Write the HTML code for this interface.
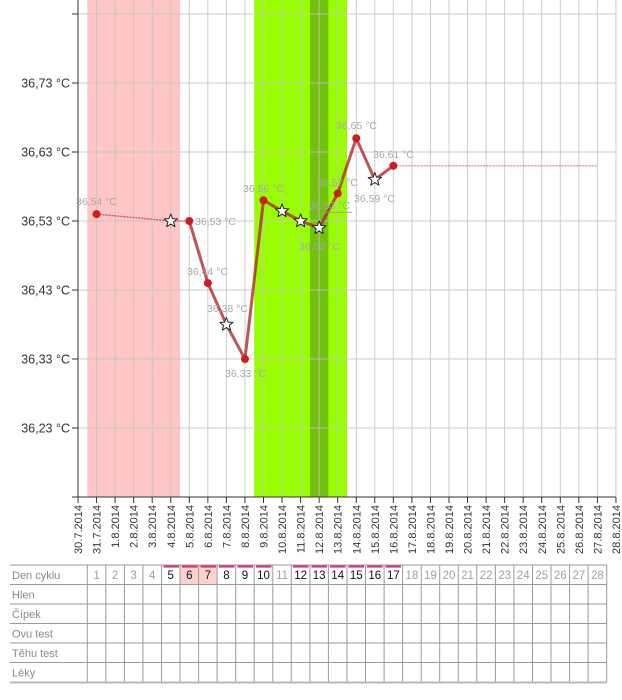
<!DOCTYPE html>
<html><head><meta charset="utf-8"><style>
html,body{margin:0;padding:0;background:#fff;}
svg{display:block;font-family:"Liberation Sans",Arial,sans-serif;}
</style></head><body>
<svg width="622" height="700" viewBox="0 0 622 700" xmlns="http://www.w3.org/2000/svg">
<defs>
<path id="st" d="M0,-7 L1.76,-2.43 L6.66,-2.16 L2.85,0.93 L4.11,5.66 L0,3 L-4.11,5.66 L-2.85,0.93 L-6.66,-2.16 L-1.76,-2.43 Z" fill="#fff" stroke="#222" stroke-width="1" stroke-linejoin="round"/>
</defs>
<rect width="622" height="700" fill="#fff"/>
<!-- bands -->
<rect x="87.3" y="0" width="92.7" height="497" fill="#ffc6c6"/>
<rect x="254.2" y="0" width="92.8" height="497" fill="#99ff00"/>
<rect x="309.9" y="0" width="18.5" height="497" fill="#72c10d"/>
<!-- grid -->
<g stroke="#c4c4c4" stroke-width="1" opacity="0.85">
<line x1="96.55" y1="0" x2="96.55" y2="497"/><line x1="115.1" y1="0" x2="115.1" y2="497"/><line x1="133.65" y1="0" x2="133.65" y2="497"/><line x1="152.2" y1="0" x2="152.2" y2="497"/><line x1="170.75" y1="0" x2="170.75" y2="497"/><line x1="189.3" y1="0" x2="189.3" y2="497"/><line x1="207.85" y1="0" x2="207.85" y2="497"/><line x1="226.4" y1="0" x2="226.4" y2="497"/><line x1="244.95" y1="0" x2="244.95" y2="497"/><line x1="263.5" y1="0" x2="263.5" y2="497"/><line x1="282.05" y1="0" x2="282.05" y2="497"/><line x1="300.6" y1="0" x2="300.6" y2="497"/><line x1="319.15" y1="0" x2="319.15" y2="497"/><line x1="337.7" y1="0" x2="337.7" y2="497"/><line x1="356.25" y1="0" x2="356.25" y2="497"/><line x1="374.8" y1="0" x2="374.8" y2="497"/><line x1="393.35" y1="0" x2="393.35" y2="497"/><line x1="411.9" y1="0" x2="411.9" y2="497"/><line x1="430.45" y1="0" x2="430.45" y2="497"/><line x1="449" y1="0" x2="449" y2="497"/><line x1="467.55" y1="0" x2="467.55" y2="497"/><line x1="486.1" y1="0" x2="486.1" y2="497"/><line x1="504.65" y1="0" x2="504.65" y2="497"/><line x1="523.2" y1="0" x2="523.2" y2="497"/><line x1="541.75" y1="0" x2="541.75" y2="497"/><line x1="560.3" y1="0" x2="560.3" y2="497"/><line x1="578.85" y1="0" x2="578.85" y2="497"/><line x1="597.4" y1="0" x2="597.4" y2="497"/><line x1="615.95" y1="0" x2="615.95" y2="497"/>
<line x1="78" y1="14" x2="616" y2="14"/><line x1="78" y1="83" x2="616" y2="83"/><line x1="78" y1="152" x2="616" y2="152"/><line x1="78" y1="221" x2="616" y2="221"/><line x1="78" y1="290" x2="616" y2="290"/><line x1="78" y1="359" x2="616" y2="359"/><line x1="78" y1="428" x2="616" y2="428"/>
</g>
<!-- axes -->
<g stroke="#333" stroke-width="1">
<line x1="78" y1="0" x2="78" y2="497"/>
<line x1="72" y1="497" x2="616" y2="497"/>
<line x1="72" y1="14" x2="78" y2="14"/><line x1="72" y1="83" x2="78" y2="83"/><line x1="72" y1="152" x2="78" y2="152"/><line x1="72" y1="221" x2="78" y2="221"/><line x1="72" y1="290" x2="78" y2="290"/><line x1="72" y1="359" x2="78" y2="359"/><line x1="72" y1="428" x2="78" y2="428"/>
<line x1="78" y1="497" x2="78" y2="503"/><line x1="96.55" y1="497" x2="96.55" y2="503"/><line x1="115.1" y1="497" x2="115.1" y2="503"/><line x1="133.65" y1="497" x2="133.65" y2="503"/><line x1="152.2" y1="497" x2="152.2" y2="503"/><line x1="170.75" y1="497" x2="170.75" y2="503"/><line x1="189.3" y1="497" x2="189.3" y2="503"/><line x1="207.85" y1="497" x2="207.85" y2="503"/><line x1="226.4" y1="497" x2="226.4" y2="503"/><line x1="244.95" y1="497" x2="244.95" y2="503"/><line x1="263.5" y1="497" x2="263.5" y2="503"/><line x1="282.05" y1="497" x2="282.05" y2="503"/><line x1="300.6" y1="497" x2="300.6" y2="503"/><line x1="319.15" y1="497" x2="319.15" y2="503"/><line x1="337.7" y1="497" x2="337.7" y2="503"/><line x1="356.25" y1="497" x2="356.25" y2="503"/><line x1="374.8" y1="497" x2="374.8" y2="503"/><line x1="393.35" y1="497" x2="393.35" y2="503"/><line x1="411.9" y1="497" x2="411.9" y2="503"/><line x1="430.45" y1="497" x2="430.45" y2="503"/><line x1="449" y1="497" x2="449" y2="503"/><line x1="467.55" y1="497" x2="467.55" y2="503"/><line x1="486.1" y1="497" x2="486.1" y2="503"/><line x1="504.65" y1="497" x2="504.65" y2="503"/><line x1="523.2" y1="497" x2="523.2" y2="503"/><line x1="541.75" y1="497" x2="541.75" y2="503"/><line x1="560.3" y1="497" x2="560.3" y2="503"/><line x1="578.85" y1="497" x2="578.85" y2="503"/><line x1="597.4" y1="497" x2="597.4" y2="503"/><line x1="615.95" y1="497" x2="615.95" y2="503"/>
</g>
<!-- y labels -->
<g font-size="12.5" fill="#333" text-anchor="end">
<text x="70" y="87.5">36,73 °C</text>
<text x="70" y="156.5">36,63 °C</text>
<text x="70" y="225.5">36,53 °C</text>
<text x="70" y="294.5">36,43 °C</text>
<text x="70" y="363.5">36,33 °C</text>
<text x="70" y="432.5">36,23 °C</text>
</g>
<!-- x labels -->
<g font-size="11" fill="#333" text-anchor="end">
<text transform="translate(82,505) rotate(-90)">30.7.2014</text>
<text transform="translate(100.55,505) rotate(-90)">31.7.2014</text>
<text transform="translate(119.1,505) rotate(-90)">1.8.2014</text>
<text transform="translate(137.65,505) rotate(-90)">2.8.2014</text>
<text transform="translate(156.2,505) rotate(-90)">3.8.2014</text>
<text transform="translate(174.75,505) rotate(-90)">4.8.2014</text>
<text transform="translate(193.3,505) rotate(-90)">5.8.2014</text>
<text transform="translate(211.85,505) rotate(-90)">6.8.2014</text>
<text transform="translate(230.4,505) rotate(-90)">7.8.2014</text>
<text transform="translate(248.95,505) rotate(-90)">8.8.2014</text>
<text transform="translate(267.5,505) rotate(-90)">9.8.2014</text>
<text transform="translate(286.05,505) rotate(-90)">10.8.2014</text>
<text transform="translate(304.6,505) rotate(-90)">11.8.2014</text>
<text transform="translate(323.15,505) rotate(-90)">12.8.2014</text>
<text transform="translate(341.7,505) rotate(-90)">13.8.2014</text>
<text transform="translate(360.25,505) rotate(-90)">14.8.2014</text>
<text transform="translate(378.8,505) rotate(-90)">15.8.2014</text>
<text transform="translate(397.35,505) rotate(-90)">16.8.2014</text>
<text transform="translate(415.9,505) rotate(-90)">17.8.2014</text>
<text transform="translate(434.45,505) rotate(-90)">18.8.2014</text>
<text transform="translate(453,505) rotate(-90)">19.8.2014</text>
<text transform="translate(471.55,505) rotate(-90)">20.8.2014</text>
<text transform="translate(490.1,505) rotate(-90)">21.8.2014</text>
<text transform="translate(508.65,505) rotate(-90)">22.8.2014</text>
<text transform="translate(527.2,505) rotate(-90)">23.8.2014</text>
<text transform="translate(545.75,505) rotate(-90)">24.8.2014</text>
<text transform="translate(564.3,505) rotate(-90)">25.8.2014</text>
<text transform="translate(582.85,505) rotate(-90)">26.8.2014</text>
<text transform="translate(601.4,505) rotate(-90)">27.8.2014</text>
<text transform="translate(619.95,505) rotate(-90)">28.8.2014</text>
</g>
<!-- thin dotted lines -->
<polyline points="96.55,214.1 170.75,221 189.3,221" fill="none" stroke="#c03030" stroke-width="1.3" stroke-dasharray="2,1" opacity="0.8"/>
<polyline points="393.35,165.8 597.4,165.8" fill="none" stroke="#d04848" stroke-width="1.3" stroke-dasharray="2,1" opacity="0.6"/>
<!-- main line -->
<polyline points="189.3,221 207.85,283.1 226.4,324.5 244.95,359 263.5,200.3 282.05,211 300.6,221 319.15,227.9 337.7,193.4 356.25,138.2 374.8,179.6 393.35,165.8" fill="none" stroke="#b02424" stroke-width="3" stroke-linejoin="round" opacity="0.78"/>
<!-- value labels -->
<g font-size="10.5" fill="#a8a8a8">
<text x="76" y="205">36,54 °C</text>
<text x="195" y="225">36,53 °C</text>
<text x="187" y="275">36,44 °C</text>
<text x="207" y="312">36,38 °C</text>
<text x="225" y="377">36,33 °C</text>
<text x="243" y="192">36,56 °C</text>
<text x="309" y="209">36,53 °C</text>
<text x="317" y="186">36,57 °C</text>
<text x="299" y="250">36,52 °C</text>
<text x="336" y="129">36,65 °C</text>
<text x="354" y="202">36,59 °C</text>
<text x="373" y="158">36,61 °C</text>
</g>
<line x1="308" y1="212.3" x2="352" y2="212.3" stroke="#999" stroke-width="0.8"/>
<!-- dots -->
<g fill="#d01c1c">
<circle cx="96.55" cy="214.1" r="4"/>
<circle cx="189.3" cy="221" r="4"/>
<circle cx="207.85" cy="283.1" r="4"/>
<circle cx="244.95" cy="359" r="4"/>
<circle cx="263.5" cy="200.3" r="4"/>
<circle cx="337.7" cy="193.4" r="4"/>
<circle cx="356.25" cy="138.2" r="4"/>
<circle cx="393.35" cy="165.8" r="4"/>
</g>
<!-- stars -->
<use href="#st" x="170.75" y="221"/>
<use href="#st" x="226.4" y="324.5"/>
<use href="#st" x="282.05" y="211"/>
<use href="#st" x="300.6" y="221"/>
<use href="#st" x="319.15" y="227.9"/>
<use href="#st" x="374.8" y="179.6"/>

<!-- table -->
<rect x="180.3" y="565" width="37.1" height="19.5" fill="#fbd3cc"/>
<g fill="#d63384">
<rect x="163.5" y="565" width="15.5" height="2.6"/><rect x="182" y="565" width="15.5" height="2.6"/><rect x="200.5" y="565" width="15.5" height="2.6"/><rect x="219" y="565" width="15.5" height="2.6"/><rect x="237.5" y="565" width="15.5" height="2.6"/><rect x="256" y="565" width="15.5" height="2.6"/>
<rect x="293" y="565" width="15.5" height="2.6"/><rect x="311.5" y="565" width="15.5" height="2.6"/><rect x="330" y="565" width="15.5" height="2.6"/><rect x="348.5" y="565" width="15.5" height="2.6"/><rect x="367" y="565" width="15.5" height="2.6"/><rect x="385.5" y="565" width="15.5" height="2.6"/>
</g>
<g stroke="#9a9a9a" stroke-width="1">
<line x1="10" y1="565" x2="606.7" y2="565"/>
<line x1="10" y1="584.5" x2="606.7" y2="584.5"/>
<line x1="10" y1="604" x2="606.7" y2="604"/>
<line x1="10" y1="623.5" x2="606.7" y2="623.5"/>
<line x1="10" y1="643" x2="606.7" y2="643"/>
<line x1="10" y1="662.5" x2="606.7" y2="662.5"/>
<line x1="87.3" y1="565" x2="87.3" y2="682"/><line x1="105.8" y1="565" x2="105.8" y2="682"/><line x1="124.4" y1="565" x2="124.4" y2="682"/><line x1="142.9" y1="565" x2="142.9" y2="682"/><line x1="161.5" y1="565" x2="161.5" y2="682"/><line x1="180" y1="565" x2="180" y2="682"/><line x1="198.6" y1="565" x2="198.6" y2="682"/><line x1="217.1" y1="565" x2="217.1" y2="682"/><line x1="235.7" y1="565" x2="235.7" y2="682"/><line x1="254.2" y1="565" x2="254.2" y2="682"/><line x1="272.8" y1="565" x2="272.8" y2="682"/><line x1="291.3" y1="565" x2="291.3" y2="682"/><line x1="309.9" y1="565" x2="309.9" y2="682"/><line x1="328.4" y1="565" x2="328.4" y2="682"/><line x1="347" y1="565" x2="347" y2="682"/><line x1="365.5" y1="565" x2="365.5" y2="682"/><line x1="384.1" y1="565" x2="384.1" y2="682"/><line x1="402.6" y1="565" x2="402.6" y2="682"/><line x1="421.2" y1="565" x2="421.2" y2="682"/><line x1="439.7" y1="565" x2="439.7" y2="682"/><line x1="458.3" y1="565" x2="458.3" y2="682"/><line x1="476.8" y1="565" x2="476.8" y2="682"/><line x1="495.4" y1="565" x2="495.4" y2="682"/><line x1="513.9" y1="565" x2="513.9" y2="682"/><line x1="532.5" y1="565" x2="532.5" y2="682"/><line x1="551" y1="565" x2="551" y2="682"/><line x1="569.6" y1="565" x2="569.6" y2="682"/><line x1="588.1" y1="565" x2="588.1" y2="682"/><line x1="606.7" y1="565" x2="606.7" y2="682"/>
</g>
<line x1="10" y1="682.5" x2="606.7" y2="682.5" stroke="#b8b8b8" stroke-width="2"/>
<g font-size="11" fill="#8a8a8a">
<text x="12" y="579">Den cyklu</text>
<text x="12" y="598.5">Hlen</text>
<text x="12" y="618">Čípek</text>
<text x="12" y="637.5">Ovu test</text>
<text x="12" y="657">Těhu test</text>
<text x="12" y="676.5">Léky</text>
</g>
<g font-size="11.5" text-anchor="middle" fill="#a0a0a0">
<text x="96.55" y="579">1</text><text x="115.1" y="579">2</text><text x="133.65" y="579">3</text><text x="152.2" y="579">4</text>
<text x="170.75" y="579" fill="#111">5</text><text x="189.3" y="579" fill="#111">6</text><text x="207.85" y="579" fill="#111">7</text><text x="226.4" y="579" fill="#111">8</text><text x="244.95" y="579" fill="#111">9</text><text x="263.5" y="579" fill="#111">10</text>
<text x="282.05" y="579">11</text>
<text x="300.6" y="579" fill="#111">12</text><text x="319.15" y="579" fill="#111">13</text><text x="337.7" y="579" fill="#111">14</text><text x="356.25" y="579" fill="#111">15</text><text x="374.8" y="579" fill="#111">16</text><text x="393.35" y="579" fill="#111">17</text>
<text x="411.9" y="579">18</text><text x="430.45" y="579">19</text><text x="449" y="579">20</text><text x="467.55" y="579">21</text><text x="486.1" y="579">22</text><text x="504.65" y="579">23</text><text x="523.2" y="579">24</text><text x="541.75" y="579">25</text><text x="560.3" y="579">26</text><text x="578.85" y="579">27</text><text x="597.4" y="579">28</text>
</g>
</svg>
</body></html>
